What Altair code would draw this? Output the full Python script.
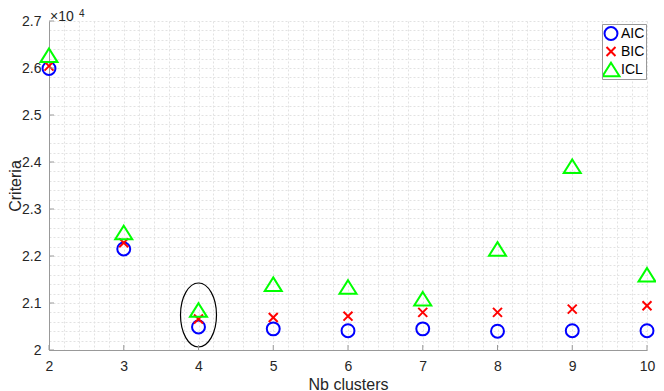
import altair as alt
import pandas as pd

# ---- data ----
n_clusters = [2, 3, 4, 5, 6, 7, 8, 9, 10]
aic = [25990, 22150, 20490, 20450, 20410, 20450, 20400, 20410, 20410]
bic = [26040, 22280, 20660, 20690, 20720, 20800, 20800, 20870, 20940]
icl = [26270, 22500, 20850, 21400, 21340, 21090, 22150, 23910, 21600]
series_names = ["AIC", "BIC", "ICL"]
series_colors = ["#0000ff", "#ff0000", "#00ff00"]

x_major = [2, 3, 4, 5, 6, 7, 8, 9, 10]
y_major = [20000, 21000, 22000, 23000, 24000, 25000, 26000, 27000]
x_minor = [round(2 + 0.2 * i, 1) for i in range(41)]
y_minor = [20000 + 200 * i for i in range(36)]

highlight_k = [4]
highlight_v = [20745]

exponent_text = ["\u00d710"]
exponent_power = ["4"]

# ---- tables ----
rows = []
for name, vals in zip(series_names, [aic, bic, icl]):
    for k, v in zip(n_clusters, vals):
        rows.append({"k": k, "value": v, "series": name})
df = pd.DataFrame(rows)

W, H = 598, 329
FONT = "Liberation Sans"
AX = "#999999"

xscale = alt.Scale(domain=[2, 10], nice=False, zero=False)
yscale = alt.Scale(domain=[20000, 27000], nice=False, zero=False)

circle_path = "M -0.95,0 A 0.95,0.95 0 1,1 0.95,0 A 0.95,0.95 0 1,1 -0.95,0 Z"
x_path = "M -0.66,-0.66 L 0.66,0.66 M -0.66,0.66 L 0.66,-0.66"
tri_path = "M 0,-1 L 1.25,1 L -1.25,1 Z"
SYM = 185

x_axis = alt.Axis(
    values=x_minor,
    labelExpr="abs(datum.value - round(datum.value)) < 0.001 ? '' + round(datum.value) : ''",
    title="Nb clusters",
    ticks=False, tickSize=0,
    labelPadding=9, titlePadding=3,
    labelOverlap=False, labelFlush=False,
)
y_axis = alt.Axis(
    values=y_minor,
    labelExpr="datum.value % 1000 == 0 ? '' + (datum.value / 10000) : ''",
    title="Criteria",
    ticks=False, tickSize=0,
    labelPadding=8,
    titleX=-29, titleBaseline="alphabetic",
    labelOverlap=False, labelFlush=False,
)

points = alt.Chart(df).mark_point(filled=False, strokeWidth=2, size=SYM, opacity=1).encode(
    x=alt.X("k:Q", scale=xscale, axis=x_axis),
    y=alt.Y("value:Q", scale=yscale, axis=y_axis),
    color=alt.Color("series:N",
                    scale=alt.Scale(domain=series_names, range=series_colors),
                    legend=alt.Legend(title=None, orient="none", legendX=553, legendY=3)),
    shape=alt.Shape("series:N",
                    scale=alt.Scale(domain=series_names, range=[circle_path, x_path, tri_path]),
                    legend=alt.Legend(title=None, orient="none", legendX=553, legendY=3)),
)

ellipse = alt.Chart(pd.DataFrame({"k": highlight_k, "value": highlight_v})).mark_point(
    shape="M -0.5625,0 A 0.5625,1 0 1,1 0.5625,0 A 0.5625,1 0 1,1 -0.5625,0 Z",
    size=4096, filled=False, stroke="black", strokeWidth=1.2, opacity=1,
).encode(x=alt.X("k:Q", scale=xscale, axis=x_axis), y=alt.Y("value:Q", scale=yscale, axis=y_axis))

xticks = alt.Chart(pd.DataFrame({"k": x_major})).mark_rule(color=AX, strokeWidth=1).encode(
    x=alt.X("k:Q", scale=xscale, axis=x_axis), y=alt.value(H), y2=alt.value(H - 5)
)
yticks = alt.Chart(pd.DataFrame({"value": y_major})).mark_rule(color=AX, strokeWidth=1).encode(
    y=alt.Y("value:Q", scale=yscale, axis=y_axis), x=alt.value(0), x2=alt.value(5)
)

exp_base = alt.Chart(pd.DataFrame({"t": exponent_text})).mark_text(
    font=FONT, fontSize=14, color="#262626", align="left", baseline="alphabetic"
).encode(x=alt.value(1), y=alt.value(-0.5), text="t:N")
exp_pow = alt.Chart(pd.DataFrame({"t": exponent_power})).mark_text(
    font=FONT, fontSize=10, color="#262626", align="left", baseline="alphabetic"
).encode(x=alt.value(30), y=alt.value(-4.5), text="t:N")

chart = alt.layer(points, ellipse, xticks, yticks, exp_base, exp_pow).properties(
    width=W, height=H,
    autosize=alt.AutoSizeParams(type="none"),
    padding={"left": 41, "top": 13, "right": 9, "bottom": 41},
).configure_view(stroke=None).configure_axis(
    domainColor=AX, domainWidth=1,
    gridColor="#e2e2e2", gridDash=[2, 2], gridWidth=1,
    labelFont=FONT, labelFontSize=14, labelColor="#262626",
    titleFont=FONT, titleFontSize=16, titleColor="#262626", titleFontWeight="normal",
).configure_legend(
    labelFont=FONT, labelFontSize=14, labelColor="#000000",
    symbolSize=SYM, symbolStrokeWidth=2, symbolFillColor="transparent",
    strokeColor="#999999", fillColor="white", padding=1, rowPadding=1,
    clipHeight=17, labelOffset=2, symbolOpacity=1,
)

chart.save("out.html", embed_options={"renderer": "svg", "actions": False})
